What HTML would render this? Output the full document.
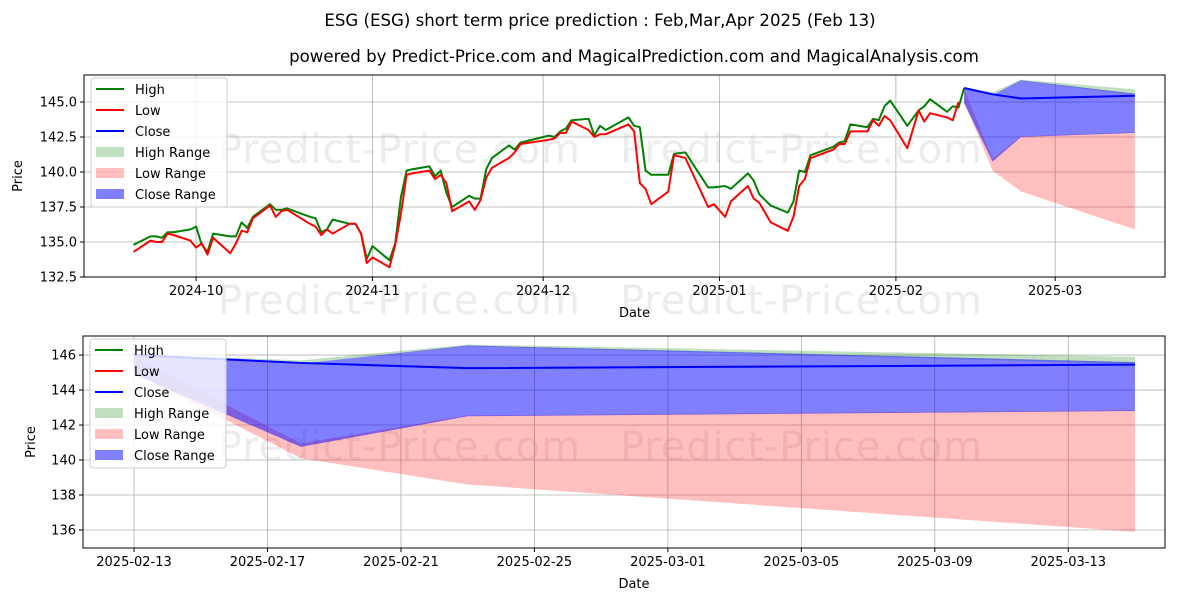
<!DOCTYPE html>
<html><head><meta charset="utf-8"><style>
body{margin:0;background:#fff;}
svg{display:block;font-family:"DejaVu Sans","Liberation Sans",sans-serif;}
</style></head><body>
<svg id="c" width="1200" height="600" viewBox="0 0 1200 600" xmlns="http://www.w3.org/2000/svg">
<rect width="1200" height="600" fill="#fff"/>
<g fill="#ececec" font-size="40">
<text x="218" y="163" textLength="362">Predict-Price.com</text><text x="620" y="163" textLength="362">Predict-Price.com</text>
<text x="218" y="314" textLength="362">Predict-Price.com</text><text x="620" y="314" textLength="362">Predict-Price.com</text>
<text x="218" y="460" textLength="362">Predict-Price.com</text><text x="620" y="460" textLength="362">Predict-Price.com</text>
</g>
<text x="600" y="26" text-anchor="middle" font-size="16.6">ESG (ESG) short term price prediction : Feb,Mar,Apr 2025 (Feb 13)</text>
<text x="634" y="62" text-anchor="middle" font-size="16.6">powered by Predict-Price.com and MagicalPrediction.com and MagicalAnalysis.com</text>
<g id="top"></g><g id="bot"></g>
</svg>
<script>
const histDates=["2024-09-20","2024-09-23","2024-09-24","2024-09-25","2024-09-26","2024-09-27","2024-09-30","2024-10-01","2024-10-02","2024-10-03","2024-10-04","2024-10-07","2024-10-08","2024-10-09","2024-10-10","2024-10-11","2024-10-14","2024-10-15","2024-10-16","2024-10-17","2024-10-21","2024-10-22","2024-10-23","2024-10-24","2024-10-25","2024-10-28","2024-10-29","2024-10-30","2024-10-31","2024-11-01","2024-11-04","2024-11-05","2024-11-06","2024-11-07","2024-11-08","2024-11-11","2024-11-12","2024-11-13","2024-11-14","2024-11-15","2024-11-18","2024-11-19","2024-11-20","2024-11-21","2024-11-22","2024-11-25","2024-11-26","2024-11-27","2024-12-02","2024-12-03","2024-12-04","2024-12-05","2024-12-06","2024-12-09","2024-12-10","2024-12-11","2024-12-12","2024-12-16","2024-12-17","2024-12-18","2024-12-19","2024-12-20","2024-12-23","2024-12-24","2024-12-26","2024-12-30","2024-12-31","2025-01-02","2025-01-03","2025-01-06","2025-01-07","2025-01-08","2025-01-10","2025-01-13","2025-01-14","2025-01-15","2025-01-16","2025-01-17","2025-01-21","2025-01-22","2025-01-23","2025-01-24","2025-01-27","2025-01-28","2025-01-29","2025-01-30","2025-01-31","2025-02-03","2025-02-05","2025-02-06","2025-02-07","2025-02-10","2025-02-11","2025-02-12","2025-02-13"];
const highVals=[134.8,135.4,135.4,135.3,135.7,135.7,135.9,136.1,134.8,134.3,135.6,135.4,135.4,136.4,136.0,136.8,137.7,137.3,137.3,137.4,136.8,136.7,135.7,135.9,136.6,136.3,136.3,135.6,133.8,134.7,133.7,134.9,138.2,140.1,140.2,140.4,139.7,140.1,138.5,137.5,138.3,138.1,138.1,140.2,141.0,141.9,141.6,142.1,142.6,142.5,142.9,143.1,143.7,143.8,142.6,143.3,143.0,143.9,143.3,143.2,140.1,139.8,139.8,141.3,141.4,138.9,138.9,139.0,138.8,139.9,139.4,138.4,137.6,137.1,137.9,140.1,140.0,141.2,141.8,142.1,142.2,143.4,143.2,143.8,143.7,144.7,145.1,143.3,144.4,144.7,145.2,144.3,144.7,144.6,146.0];
const lowVals=[134.3,135.1,135.0,135.0,135.6,135.5,135.1,134.6,134.9,134.1,135.3,134.2,134.9,135.8,135.7,136.7,137.6,136.8,137.2,137.3,136.3,136.1,135.5,135.9,135.6,136.3,136.3,135.6,133.5,133.9,133.2,134.8,137.0,139.8,139.9,140.1,139.5,139.8,139.2,137.2,137.9,137.3,138.0,139.6,140.3,141.0,141.4,142.0,142.3,142.4,142.8,142.8,143.6,143.0,142.5,142.7,142.7,143.4,142.9,139.2,138.8,137.7,138.6,141.2,141.0,137.5,137.7,136.8,137.9,139.0,138.1,137.8,136.4,135.8,136.8,139.0,139.5,141.0,141.6,142.0,142.0,142.9,142.9,143.7,143.3,144.0,143.7,141.7,144.4,143.6,144.2,143.9,143.7,145.0];
const fcDates=["2025-02-13","2025-02-18","2025-02-23","2025-03-15"];
const closeVals=[146.0,145.55,145.25,145.45];
const highRangeHi=[146.05,145.7,146.6,145.9];
const highRangeLo=[146.0,145.5,146.5,145.5];
const closeRangeHi=[146.0,145.5,146.55,145.6];
const closeRangeLo=[144.9,140.75,142.5,142.8];
const lowRangeHi=[145.9,140.95,142.55,142.85];
const lowRangeLo=[145.0,140.1,138.6,135.9];
const topYTicks=[132.5,135.0,137.5,140.0,142.5,145.0];
const topXTicks=["2024-10-01","2024-11-01","2024-12-01","2025-01-01","2025-02-01","2025-03-01"];
const botYTicks=[136,138,140,142,144,146];
const botXTicks=["2025-02-13","2025-02-17","2025-02-21","2025-02-25","2025-03-01","2025-03-05","2025-03-09","2025-03-13"];

const NS="http://www.w3.org/2000/svg";
const day=s=>Date.UTC(+s.slice(0,4),+s.slice(5,7)-1,+s.slice(8,10))/864e5;
function mk(p,t,a){const e=document.createElementNS(NS,t);for(const k in a)e.setAttribute(k,a[k]);p.appendChild(e);return e;}

function panel(g,box,d0,d1,v0,v1,yt,yfmt,xt,xfmt,showHist,yLabelX,name){
  const X=d=>box.l+(day(d)-d0)/(d1-d0)*(box.r-box.l);
  const Y=v=>box.b-(v-v0)/(v1-v0)*(box.b-box.t);
  const grid=mk(g,'g',{});
  
  
  yt.forEach(v=>{const y=Y(v);mk(grid,'line',{x1:box.l,x2:box.r,y1:y,y2:y,stroke:'#b0b0b0','stroke-width':0.8});
    mk(grid,'line',{x1:box.l-4,x2:box.l,y1:y,y2:y,stroke:'#000'});
    const t=mk(grid,'text',{x:box.l-7,y:y+4.5,'text-anchor':'end','font-size':13});t.textContent=yfmt(v);
    });
  xt.forEach(d=>{const x=X(d);mk(grid,'line',{x1:x,x2:x,y1:box.t,y2:box.b,stroke:'#b0b0b0','stroke-width':0.8});
    mk(grid,'line',{x1:x,x2:x,y1:box.b,y2:box.b+4,stroke:'#000'});
    const t=mk(grid,'text',{x:x,y:box.b+18,'text-anchor':'middle','font-size':13});t.textContent=xfmt(d);
    });
  const area=(hi,lo,fill,op,n)=>{let pts=fcDates.map((d,i)=>X(d)+','+Y(hi[i]));
    for(let i=fcDates.length-1;i>=0;i--)pts.push(X(fcDates[i])+','+Y(lo[i]));
    const p=mk(g,'polygon',{points:pts.join(' '),fill:fill,'fill-opacity':op});
    };
  area(highRangeHi,highRangeLo,'#008000',0.25,'high-range-area');
  area(lowRangeHi,lowRangeLo,'#ff0000',0.25,'low-range-area');
  area(closeRangeHi,closeRangeLo,'#0000ff',0.5,'close-range-area');
  const line=(ds,vs,c,n)=>{const p=mk(g,'polyline',{points:ds.map((d,i)=>X(d)+','+Y(vs[i])).join(' '),fill:'none',stroke:c,'stroke-width':2,'stroke-linejoin':'round'});
    };
  if(showHist){line(histDates,highVals,'#008000','high-line');line(histDates,lowVals,'#ff0000','low-line');}
  line(fcDates,closeVals,'#0000ff','close-line');
  const fr=mk(g,'rect',{x:box.l,y:box.t,width:box.r-box.l,height:box.b-box.t,fill:'none',stroke:'#000','stroke-width':1});
  
  const yl=mk(g,'text',{x:yLabelX,y:(box.t+box.b)/2,'text-anchor':'middle','font-size':13,transform:`rotate(-90 ${yLabelX} ${(box.t+box.b)/2})`});
  yl.textContent='Price';
  const xl=mk(g,'text',{x:(box.l+box.r)/2+10,y:box.b+40,'text-anchor':'middle','font-size':13});
  xl.textContent='Date';
  const lg=mk(g,'g',{});
  
  mk(lg,'rect',{x:box.l+7,y:box.t+3,width:136,height:129,rx:3,fill:'#fff','fill-opacity':0.8,stroke:'#ccc'});
  const items=[['High','l','#008000'],['Low','l','#ff0000'],['Close','l','#0000ff'],['High Range','a','rgba(0,128,0,0.25)'],['Low Range','a','rgba(255,0,0,0.25)'],['Close Range','a','rgba(0,0,255,0.5)']];
  items.forEach((it,i)=>{const y=box.t+14+i*21;
    if(it[1]=='l')mk(lg,'line',{x1:box.l+12,x2:box.l+40,y1:y,y2:y,stroke:it[2],'stroke-width':2});
    else mk(lg,'rect',{x:box.l+12,y:y-5,width:28,height:10,fill:it[2]});
    const t=mk(lg,'text',{x:box.l+51,y:y+5,'font-size':13});t.textContent=it[0];
    });
}
const mon=d=>d.slice(0,7);
panel(document.getElementById('top'),{l:84,r:1165,t:75,b:277},day("2024-10-01")-19.7,day("2024-10-01")+170.3,132.5,146.93,topYTicks,v=>v.toFixed(1),topXTicks,mon,true,22,'top-panel');
panel(document.getElementById('bot'),{l:83,r:1165,t:336,b:548},day("2025-02-13")-1.53,day("2025-02-13")+30.9,134.97,147.09,botYTicks,v=>String(v),botXTicks,d=>d,false,35,'bottom-panel');
</script>
</body></html>
